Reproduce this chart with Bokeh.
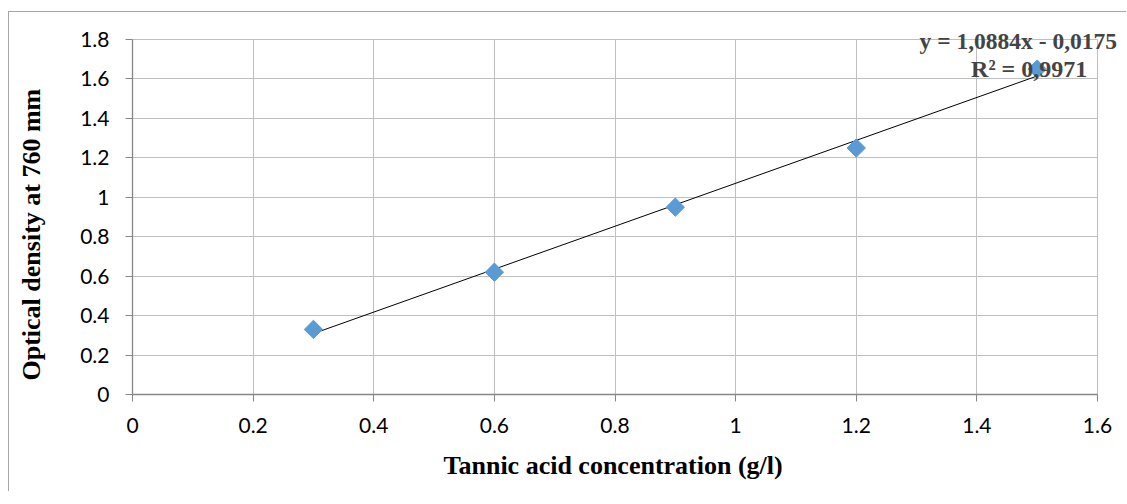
from bokeh.plotting import figure
from bokeh.models import Label, FixedTicker, Title
from bokeh.embed import file_html
from bokeh.resources import INLINE

x_vals = [0.3, 0.6, 0.9, 1.2, 1.5]
y_vals = [0.33, 0.62, 0.95, 1.25, 1.65]
slope = 1.0884
intercept = -0.0175
eq_text = "y = 1,0884x - 0,0175"
r2_text = "R² = 0,9971"
x_ticks = [0, 0.2, 0.4, 0.6, 0.8, 1.0, 1.2, 1.4, 1.6]
y_ticks = [0, 0.2, 0.4, 0.6, 0.8, 1.0, 1.2, 1.4, 1.6, 1.8]
x_title = "Tannic acid concentration (g/l)"
y_title = "Optical density at 760 mm"

X_MAX, Y_MAX = 1.6, 1.8
# frame is extended to the right/top so the trendline label is not clipped
p = figure(width=1118, height=480, output_backend="svg", toolbar_location=None,
           x_range=(0, 1.6497), y_range=(0, 1.937),
           min_border_left=123, min_border_right=0, min_border_top=0, min_border_bottom=98)
p.margin = (11, 0, 0, 8)
p.styles = {"border-left": "1px solid #a6a6a6", "border-top": "1px solid #a6a6a6"}
p.outline_line_color = None
p.background_fill_color = "white"
p.border_fill_color = "white"

for ax, ticks, b in ((p.xaxis[0], x_ticks, (0, X_MAX)), (p.yaxis[0], y_ticks, (0, Y_MAX))):
    ax.ticker = FixedTicker(ticks=ticks)
    ax.bounds = b
    ax.axis_line_color = "#868686"
    ax.axis_line_width = 1.3
    ax.major_tick_line_color = "#868686"
    ax.major_tick_out = 7
    ax.major_tick_in = 0
    ax.minor_tick_line_color = None
    ax.major_label_text_font = "Lato"
    ax.major_label_text_font_size = "21px"
    ax.major_label_text_color = "#000000"
    # spacer labels so the side titles sit further out
    ax.axis_label = " "
    ax.axis_label_text_font_size = "1px"

p.xaxis[0].major_label_standoff = 16
p.yaxis[0].major_label_standoff = 16
p.xaxis[0].axis_label_standoff = 11
p.yaxis[0].axis_label_standoff = 28
p.xaxis[0].major_label_overrides = {0: "0", 1.0: "1"}
p.yaxis[0].major_label_overrides = {0: "0", 1.0: "1"}

p.add_layout(Title(text=y_title, align="left", offset=14, standoff=0,
                   vertical_align="bottom", text_font="Liberation Serif",
                   text_font_style="bold", text_font_size="26px", text_color="#000000"),
             "left")
p.add_layout(Title(text=x_title, align="left", offset=311, standoff=0,
                   vertical_align="top", text_font="Liberation Serif",
                   text_font_style="bold", text_font_size="26px", text_color="#000000"),
             "below")

p.xgrid.ticker = FixedTicker(ticks=x_ticks)
p.ygrid.ticker = FixedTicker(ticks=y_ticks)
p.xgrid.grid_line_color = "#bfbfbf"
p.ygrid.grid_line_color = "#bfbfbf"
p.xgrid.bounds = (0, X_MAX)
p.ygrid.bounds = (0, Y_MAX)
if hasattr(p.xgrid[0], "cross_bounds"):
    p.xgrid.cross_bounds = (0, Y_MAX)
    p.ygrid.cross_bounds = (0, X_MAX)
else:
    p.xgrid.visible = False
    p.ygrid.visible = False
    p.segment(x0=x_ticks, x1=x_ticks, y0=[0] * len(x_ticks), y1=[Y_MAX] * len(x_ticks),
              line_color="#bfbfbf", line_width=1)
    p.segment(x0=[0] * len(y_ticks), x1=[X_MAX] * len(y_ticks), y0=y_ticks, y1=y_ticks,
              line_color="#bfbfbf", line_width=1)

# trendline from fit coefficients
tx = [x_vals[0], x_vals[-1]]
ty = [slope * v + intercept for v in tx]
p.line(tx, ty, line_color="black", line_width=1)

p.scatter(x_vals, y_vals, marker="square", angle=0.7854, size=13, fill_color="#5b9bd5",
          line_color="#5b9bd5")

p.add_layout(Label(x=1.305, y=1.790, text=eq_text, text_font="Liberation Serif",
                   text_font_style="bold", text_font_size="23.5px", text_align="left",
                   text_baseline="alphabetic"))
p.add_layout(Label(x=1.583, y=1.653, text=r2_text, text_font="Liberation Serif",
                   text_font_style="bold", text_font_size="24px", text_align="right",
                   text_baseline="alphabetic"))

open("out.html", "w").write(file_html(p, INLINE))
